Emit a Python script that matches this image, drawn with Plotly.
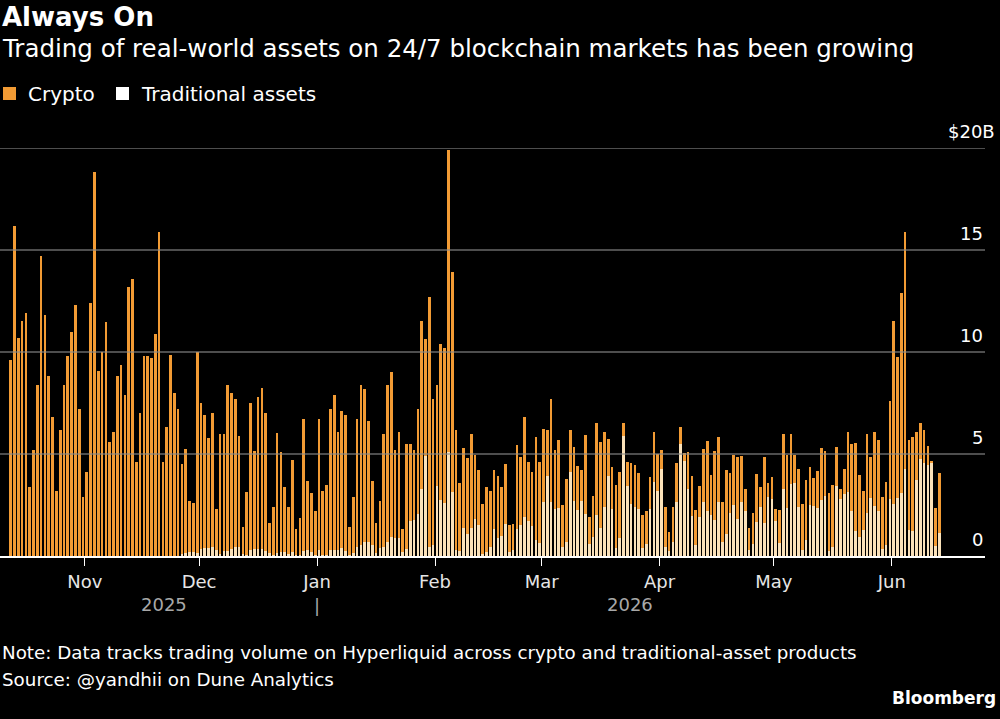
import pandas as pd
import plotly.graph_objects as go

start_date = "2025-10-12"
n_days = 245

crypto = [
    9.6, 16.2, 10.7, 11.5, 11.9, 3.4, 5.2, 8.4, 14.7, 11.8,
    8.8, 6.8, 3.2, 6.2, 8.4, 9.8, 11.0, 12.3, 7.2, 2.9,
    4.1, 12.4, 18.8, 9.07, 10.0, 11.45, 5.6, 6.1, 8.8, 9.35,
    7.9, 13.2, 13.6, 4.6, 7.0, 9.8, 9.8, 9.7, 10.9, 15.9,
    4.6, 6.3, 9.85, 8.0, 7.2, 4.4, 5.1, 2.5, 2.4, 9.87,
    7.17, 6.52, 5.42, 6.54, 2.01, 5.9, 5.74, 8.14, 7.67, 7.28,
    5.44, 1.3, 3.1, 7.21, 4.82, 7.47, 7.92, 6.74, 1.47, 2.35,
    5.92, 4.89, 3.2, 2.32, 4.5, 1.25, 1.8, 6.44, 3.4, 2.9,
    2.15, 6.4, 3.15, 3.45, 6.9, 7.6, 5.8, 6.72, 6.64, 1.35,
    2.77, 6.28, 7.85, 7.53, 5.93, 3.16, 1.47, 2.3, 5.54, 7.7,
    8.05, 4.3, 5.23, 1.12, 5.17, 3.8, 3.44, 5.14, 8.2, 5.75,
    12.28, 7.16, 4.95, 7.65, 7.6, 14.8, 10.75, 5.9, 3.37, 3.94,
    3.7, 4.64, 3.15, 2.7, 2.45, 3.2, 2.74, 2.86, 3.03, 2.4,
    2.93, 1.3, 1.25, 4.14, 3.35, 4.9, 2.87, 2.61, 5.07, 3.95,
    3.61, 2.3, 5.07, 2.9, 3.33, 2.04, 3.06, 2.1, 2.65, 2.15,
    1.5, 3.91, 1.34, 2.02, 4.5, 4.21, 3.64, 1.85, 2.06, 3.08,
    3.2, 0.6, 1.17, 2.04, 2.02, 1.75, 1.62, 1.63, 1.57, 2.46,
    1.8, 0.94, 1.94, 0.94, 1.7, 1.91, 0.8, 0.36, 1.82, 1.92,
    1.71, 1.52, 2.6, 3.42, 1.97, 3.37, 3.22, 1.99, 3.14, 1.96,
    2.45, 3.06, 2.26, 1.05, 1.09, 1.52, 2.34, 0.98, 3.21, 0.7,
    1.06, 0.58, 1.6, 2.72, 2.61, 2.47, 1.35, 1.86, 2.23, 2.95,
    1.88, 1.35, 1.8, 2.53, 2.21, 2.81, 3.06, 1.88, 0.47, 1.21,
    2.95, 3.28, 4.28, 3.05, 1.93, 3.89, 2.01, 3.59, 3.47, 2.57,
    3.1, 4.8, 8.95, 6.94, 9.8, 11.64, 4.42, 4.61, 2.35, 1.75,
    1.61, 0.93, 0.1, 1.84, 2.94,
]

traditional = [
    0, 0, 0, 0, 0, 0, 0, 0, 0, 0,
    0, 0, 0, 0, 0, 0, 0, 0, 0, 0,
    0, 0, 0, 0, 0, 0, 0, 0, 0, 0,
    0, 0, 0, 0, 0, 0, 0, 0, 0, 0,
    0, 0, 0, 0, 0, 0.1, 0.15, 0.2, 0.2, 0.13,
    0.33, 0.38, 0.38, 0.46, 0.29, 0.1, 0.26, 0.26, 0.33, 0.42,
    0.46, 0.1, 0.05, 0.29, 0.33, 0.33, 0.33, 0.26, 0.13, 0.05,
    0.13, 0.21, 0.2, 0.08, 0.2, 0.05, 0.05, 0.26, 0.3, 0.2,
    0.05, 0.3, 0.05, 0.05, 0.3, 0.3, 0.3, 0.38, 0.26, 0.05,
    0.13, 0.42, 0.55, 0.67, 0.67, 0.54, 0.13, 0.4, 0.46, 0.7,
    0.95, 0.9, 0.87, 0.18, 0.33, 1.7, 1.76, 2.06, 3.3, 4.9,
    0.42, 0.54, 3.45, 2.75, 2.6, 5.1, 3.15, 0.3, 0.23, 1.36,
    1.1, 1.36, 1.8, 1.5, 0.1, 0.2, 0.46, 1.34, 0.87, 1.0,
    1.57, 0.2, 0.3, 1.32, 1.52, 1.9, 1.73, 1.49, 0.78, 0.65,
    2.63, 3.9, 2.63, 2.3, 2.37, 0.46, 0.7, 4.1, 2.7, 2.25,
    2.7, 2.04, 0.59, 0.92, 2.0, 1.39, 2.42, 3.9, 2.29, 0.38,
    0.9, 5.9, 3.43, 2.53, 2.42, 2.3, 0.38, 0.57, 2.29, 3.64,
    3.2, 4.26, 0.46, 0.26, 0.7, 2.66, 5.5, 4.67, 3.28, 1.98,
    0.54, 1.93, 2.63, 2.2, 2.0, 1.76, 2.63, 0.67, 1.06, 2.09,
    2.5, 1.81, 2.66, 2.22, 0.3, 0.57, 1.68, 2.42, 1.63, 2.9,
    2.8, 1.72, 0.65, 3.28, 2.34, 3.53, 3.6, 2.39, 0.3, 0.78,
    2.5, 2.45, 2.37, 2.75, 2.94, 0.26, 0.42, 3.45, 2.8, 3.04,
    3.15, 2.22, 1.24, 0.92, 1.27, 2.09, 2.83, 2.47, 2.22, 0.33,
    0.54, 2.8, 2.55, 2.83, 3.1, 4.26, 1.27, 1.24, 3.73, 4.75,
    4.57, 4.46, 4.57, 0.5, 1.14,
]

month_ticks = ["2025-11-01", "2025-12-01", "2026-01-01", "2026-02-01",
               "2026-03-01", "2026-04-01", "2026-05-01", "2026-06-01"]
month_labels = ["Nov", "Dec", "Jan", "Feb", "Mar", "Apr", "May", "Jun"]
y_ticks = [0, 5, 10, 15, 20]
y_labels = ["0", "5", "10", "15", "$20B"]

ORANGE = "#F29B34"
CREAM = "#FBE2BA"
FONT = "DejaVu Sans"

dates = pd.date_range(start_date, periods=n_days, freq="D") + pd.Timedelta(hours=12)

# pixel helpers for layout (plot area: x 0..985, y 148..556)
PW, PT, PB = 985.0, 148.0, 556.0
def px(x):
    return x / PW
def py(y):
    return (PB - y) / (PB - PT)

fig = go.Figure()
fig.add_trace(go.Bar(x=dates, y=traditional, name="Traditional assets",
                     marker=dict(color=CREAM, line=dict(width=0)), showlegend=False))
fig.add_trace(go.Bar(x=dates, y=crypto, name="Crypto",
                     marker=dict(color=ORANGE, line=dict(width=0)), showlegend=False))

shapes = []
for v in y_ticks[1:]:
    shapes.append(dict(type="line", xref="paper", yref="y", x0=0, x1=1, y0=v, y1=v,
                       line=dict(color="rgba(140,140,140,0.75)", width=1.5), layer="above"))
# legend swatches
shapes.append(dict(type="rect", xref="paper", yref="paper", x0=px(3), x1=px(16),
                   y0=py(100), y1=py(87), fillcolor=ORANGE, line=dict(width=0)))
shapes.append(dict(type="rect", xref="paper", yref="paper", x0=px(116), x1=px(129),
                   y0=py(100), y1=py(87), fillcolor="#FFFFFF", line=dict(width=0)))

ann = []
ann.append(dict(text="<b>Always On</b>", xref="paper", yref="paper", x=px(0), y=py(17),
                xanchor="left", yanchor="middle", showarrow=False,
                font=dict(family=FONT, size=26, color="white")))
ann.append(dict(text="Trading of real-world assets on 24/7 blockchain markets has been growing",
                xref="paper", yref="paper", x=px(0), y=py(49), xanchor="left", yanchor="middle",
                showarrow=False, font=dict(family=FONT, size=24.5, color="white")))
ann.append(dict(text="Crypto", xref="paper", yref="paper", x=px(26), y=py(94), xanchor="left",
                yanchor="middle", showarrow=False, font=dict(family=FONT, size=20, color="white")))
ann.append(dict(text="Traditional assets", xref="paper", yref="paper", x=px(139), y=py(94),
                xanchor="left", yanchor="middle", showarrow=False,
                font=dict(family=FONT, size=20, color="white")))
for v, lab in zip(y_ticks, y_labels):
    ann.append(dict(text=lab, xref="paper", yref="y", x=1, y=v, xanchor="right", yanchor="bottom",
                    xshift=(12 if lab.endswith("B") else 0), yshift=4, showarrow=False,
                    font=dict(family=FONT, size=18, color="white")))
ann.append(dict(text="2025", xref="paper", yref="paper", x=px(164), y=py(604), xanchor="center",
                yanchor="middle", showarrow=False, font=dict(family=FONT, size=18, color="#a8a8a8")))
ann.append(dict(text="|", xref="paper", yref="paper", x=px(317), y=py(605), xanchor="center",
                yanchor="middle", showarrow=False, font=dict(family=FONT, size=18, color="#a8a8a8")))
ann.append(dict(text="2026", xref="paper", yref="paper", x=px(630), y=py(604), xanchor="center",
                yanchor="middle", showarrow=False, font=dict(family=FONT, size=18, color="#a8a8a8")))
ann.append(dict(text="Note: Data tracks trading volume on Hyperliquid across crypto and traditional-asset products",
                xref="paper", yref="paper", x=px(0), y=py(652), xanchor="left", yanchor="middle",
                showarrow=False, font=dict(family=FONT, size=18.3, color="white")))
ann.append(dict(text="Source: @yandhii on Dune Analytics", xref="paper", yref="paper", x=px(0),
                y=py(679), xanchor="left", yanchor="middle", showarrow=False,
                font=dict(family=FONT, size=18.3, color="white")))
ann.append(dict(text="<b>Bloomberg</b>", xref="paper", yref="paper", x=px(998), y=py(698),
                xanchor="right", yanchor="middle", showarrow=False,
                font=dict(family=FONT, size=17, color="white")))

fig.update_layout(
    width=1000, height=719,
    margin=dict(l=0, r=15, t=148, b=163),
    paper_bgcolor="black", plot_bgcolor="black",
    barmode="stack", bargap=0.3,
    shapes=shapes, annotations=ann,
    xaxis=dict(type="date", range=["2025-10-09 16:30", "2026-06-25 12:00"],
               tickvals=month_ticks, ticktext=month_labels, ticks="outside", ticklen=8,
               tickcolor="white", tickwidth=1, showgrid=False, zeroline=False,
               showline=True, linecolor="white", linewidth=2, layer="above traces",
               tickfont=dict(family=FONT, size=18, color="#e6e6e6")),
    yaxis=dict(range=[0, 20], showgrid=False, zeroline=False, showticklabels=False, fixedrange=True),
    font=dict(family=FONT, color="white"),
)

fig.write_html("out.html")
